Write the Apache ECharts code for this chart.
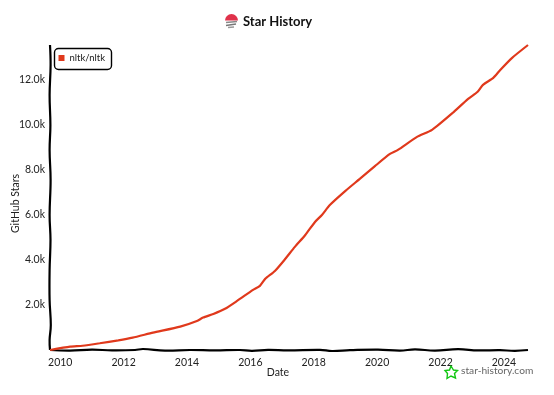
<!DOCTYPE html>
<html><head><meta charset="utf-8">
<style>html,body{margin:0;padding:0;background:#fff}#c{width:554px;height:395px}</style>
<script src="https://cdn.jsdelivr.net/npm/echarts@6/dist/echarts.min.js"></script>
</head><body><div id="c"></div>
<script>
const dates = ['2009-09-05','2010-04-25','2010-09-15','2011-04-01','2011-11-01','2012-04-15','2012-12-05','2013-10-15','2014-04-25','2014-07-05','2014-11-01','2015-03-15','2015-08-01','2016-02-01','2016-04-20','2016-06-20','2016-10-10','2017-02-05','2017-05-28','2017-09-25','2018-01-15','2018-04-05','2018-07-05','2019-01-01','2019-06-15','2019-12-10','2020-05-28','2020-08-28','2021-04-05','2021-09-25','2022-05-20','2022-11-15','2023-03-05','2023-05-05','2023-09-01','2023-11-20','2024-04-05','2024-10-05'];
const stars = [0,147,190,300,430,550,770,1040,1290,1440,1600,1830,2180,2670,2850,3160,3510,4040,4580,5110,5690,6000,6440,7070,7600,8180,8710,8890,9470,9780,10530,11160,11470,11780,12090,12440,12980,13550];
const yearTicks = ['2010','2012','2014','2016','2018','2020','2022','2024'];
const seriesName = 'nltk/nltk';
const font = 'Lato';
const red = '#e0391c';
const xWobble = [[50,350],[70,350.6],[92,349.6],[112,350.4],[135,350],[143,349],[165,350.6],[190,350],[215,350.4],[240,350],[252,350.8],[268,349.8],[288,350.4],[320,349.8],[332,351],[350,350.2],[378,349.6],[400,350.6],[415,349.4],[435,350.6],[458,349.2],[478,350.4],[500,350.2],[515,350.8],[528,350]];
const yWobble = [[50,45],[50.6,65],[49.6,95],[50.4,125],[49.6,150],[50.6,180],[49.6,215],[50.5,240],[49.6,270],[49.6,300],[50.8,325],[49.6,340],[50,350]];
const star = [[451,366],[453.5,370],[457.5,370.5],[454.5,373.5],[455.5,378],[451,376],[447,378.5],[447.5,373.5],[445,370.5],[449.5,370]];
const ms = d => new Date(d).getTime();

const chart = echarts.init(document.getElementById('c'), null, {renderer:'canvas'});
chart.setOption({
  animation:false,
  backgroundColor:'#fff',
  textStyle:{fontFamily:font},
  title:{text:'Star History',left:243,top:14,padding:0,textStyle:{fontFamily:font,fontSize:13,fontWeight:'bold',color:'#111',lineHeight:15}},
  legend:{data:[seriesName],left:58.5,top:53,padding:0,itemWidth:6,itemHeight:6,itemGap:4,icon:'rect',z:6,textStyle:{fontFamily:font,fontSize:9.5,color:'#222'}},
  grid:{left:50,right:26,top:45,bottom:45,outerBoundsMode:'none'},
  xAxis:{type:'value',min:ms('2009-09-05'),max:ms('2024-10-05'),scale:true,name:'Date',nameLocation:'middle',nameGap:17,nameMoveOverlap:false,
    nameTextStyle:{fontFamily:font,fontSize:10.5,color:'#222',padding:[0,22,0,0]},
    axisLine:{show:false},axisTick:{show:false},splitLine:{show:false},
    axisLabel:{customValues:yearTicks.map(y=>ms(y+'-01-01')),formatter:v=>String(new Date(v).getUTCFullYear()),fontFamily:font,fontSize:10.5,color:'#222',margin:7,showMinLabel:true,showMaxLabel:true}},
  yAxis:{type:'value',min:0,max:13550,interval:2000,name:'GitHub Stars',nameLocation:'middle',nameGap:29,nameMoveOverlap:false,
    nameTextStyle:{fontFamily:font,fontSize:10.5,color:'#222',padding:[0,12,0,0]},
    axisLine:{show:false},axisTick:{show:false},splitLine:{show:false},
    axisLabel:{formatter:v=>v===0?'':(v/1000).toFixed(1)+'k',fontFamily:font,fontSize:10.5,color:'#222',margin:5,showMaxLabel:false}},
  series:[{name:seriesName,type:'line',showSymbol:false,symbol:'none',smooth:0.2,z:5,
    lineStyle:{color:red,width:2.2},itemStyle:{color:red},
    data:dates.map((d,i)=>[ms(d),stars[i]])}],
  graphic:[
    {type:'polyline',z:3,shape:{points:xWobble,smooth:0.4},style:{stroke:'#000',lineWidth:2.2,fill:null}},
    {type:'polyline',z:3,shape:{points:yWobble,smooth:0.4},style:{stroke:'#000',lineWidth:2.2,fill:null}},
    {type:'rect',z:2,shape:{x:54.5,y:48.5,width:57,height:21,r:4},style:{stroke:'#000',lineWidth:1.4,fill:'#fff'}},
    {type:'sector',z:3,shape:{cx:231.5,cy:20.5,r:6.5,r0:0,startAngle:Math.PI,endAngle:Math.PI*2},style:{fill:'#e0324b'}},
    {type:'line',z:3,shape:{x1:226,y1:22.5,x2:237,y2:21.5},style:{stroke:'#888',lineWidth:1.5}},
    {type:'line',z:3,shape:{x1:226,y1:25.5,x2:236,y2:24},style:{stroke:'#777',lineWidth:1.5}},
    {type:'line',z:3,shape:{x1:228,y1:27.5,x2:234,y2:27},style:{stroke:'#999',lineWidth:1.5}},
    {type:'polygon',z:3,shape:{points:star},style:{stroke:'#12c712',lineWidth:1.4,fill:'#fff'}},
    {type:'text',z:3,style:{x:461,y:366,text:'star-history.com',fontFamily:font,fontSize:10.2,fill:'#666'}}
  ]
});
</script></body></html>
